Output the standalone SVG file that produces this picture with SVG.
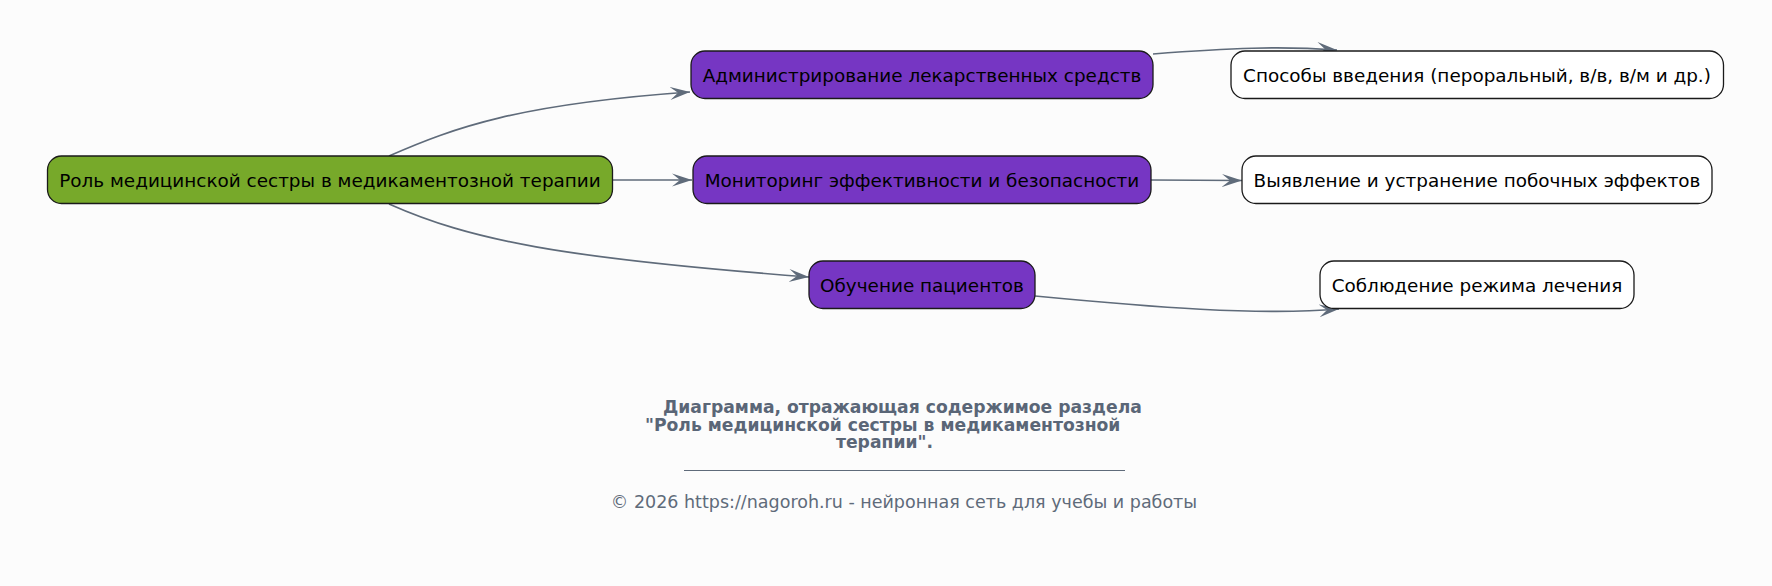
<svg xmlns="http://www.w3.org/2000/svg" width="1772" height="586" viewBox="0 0 1772 586">
<style>
.bg{fill:#fcfcfc}
.n rect{stroke:#1a1a1a;stroke-width:1.3}
.root rect{fill:#77a92a}
.mid rect{fill:#7636c3}
.leaf rect{fill:#ffffff}
.n text{font-family:"DejaVu Sans",sans-serif;font-size:18.4px;fill:#000;text-anchor:middle}
.e{fill:none;stroke:#5f6b7a;stroke-width:1.7;marker-end:url(#arr)}
.title{font-family:"DejaVu Sans",sans-serif;font-size:17.2px;font-weight:bold;fill:#5a6677}
.foot{font-family:"DejaVu Sans",sans-serif;font-size:17.5px;fill:#5f6b7a;text-anchor:middle}
</style>
<defs>
<marker id="arr" markerWidth="22" markerHeight="16" refX="20" refY="7" orient="auto" markerUnits="userSpaceOnUse">
<path d="M0,0.5 L20,7 L0,13.5 L8,7 Z" fill="#5f6b7a"/>
</marker>
</defs>
<rect class="bg" x="0" y="0" width="1772" height="586"/>
<g id="connectors">
<path class="e" d="M389,156 C455,127 520,104 690,92"/>
<path class="e" d="M613,180 L692,180"/>
<path class="e" d="M389,204 C470,240 560,258 809,277"/>
<path class="e" d="M1153,54 C1230,48 1280,46 1337,50"/>
<path class="e" d="M1151,180 L1242,180.5"/>
<path class="e" d="M1035,296 C1150,307 1260,316 1339,309"/>
</g>
<g id="root" class="n root">
<rect x="47.5" y="156" width="565" height="47.5" rx="14"/>
<text x="330" y="186.5">Роль медицинской сестры в медикаментозной терапии</text>
</g>
<g id="admin" class="n mid">
<rect x="691" y="51" width="462" height="47.5" rx="14"/>
<text x="922" y="81.5">Администрирование лекарственных средств</text>
</g>
<g id="monitoring" class="n mid">
<rect x="693" y="156" width="458" height="47.5" rx="14"/>
<text x="922" y="186.5">Мониторинг эффективности и безопасности</text>
</g>
<g id="education" class="n mid">
<rect x="809" y="261" width="226" height="47.5" rx="14"/>
<text x="922" y="291.5">Обучение пациентов</text>
</g>
<g id="routes" class="n leaf">
<rect x="1231" y="51" width="492.5" height="47.5" rx="14"/>
<text x="1477" y="81.5">Способы введения (пероральный, в/в, в/м и др.)</text>
</g>
<g id="sideeffects" class="n leaf">
<rect x="1242" y="156" width="470" height="47.5" rx="14"/>
<text x="1477" y="186.5">Выявление и устранение побочных эффектов</text>
</g>
<g id="compliance" class="n leaf">
<rect x="1320" y="261" width="314" height="47.5" rx="14"/>
<text x="1477" y="291.5">Соблюдение режима лечения</text>
</g>
<g id="caption">
<text class="title" x="663" y="413">Диаграмма, отражающая содержимое раздела</text>
<text class="title" x="645" y="431">"Роль медицинской сестры в медикаментозной</text>
<text class="title" x="836" y="448">терапии".</text>
<line x1="684" y1="470.5" x2="1125" y2="470.5" stroke="#5f6b7a" stroke-width="1"/>
<text class="foot" x="904" y="508">© 2026 https://nagoroh.ru - нейронная сеть для учебы и работы</text>
</g>
</svg>
